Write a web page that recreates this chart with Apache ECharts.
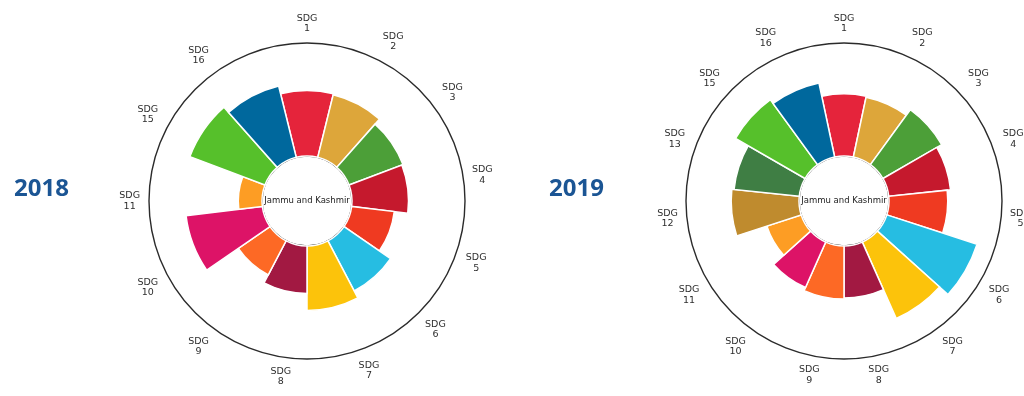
<!DOCTYPE html>
<html>
<head>
<meta charset="utf-8">
<script src="https://cdn.jsdelivr.net/npm/echarts@6/dist/echarts.min.js"></script>
<style>
html,body{margin:0;padding:0;background:#fff;}
#chart{width:1024px;height:396px;}
</style>
</head>
<body>
<div id="chart"></div>
<script>
// ---- data ----
const goals2018 = [1, 2, 3, 4, 5, 6, 7, 8, 9, 10, 11, 15, 16];
const scores2018 = [58, 57, 51, 50, 38, 50, 57, 42, 34, 68, 21, 71, 65];
const goals2019 = [1, 2, 3, 4, 5, 6, 7, 8, 9, 10, 11, 12, 13, 15, 16];
const scores2019 = [55, 54, 60, 55, 52, 84, 74, 46, 47, 44, 32, 60, 58, 71, 67];
const yearLabels = ['2018', '2019'];
const centerLabel = 'Jammu and Kashmir';
const sdgColors = {
  1: '#E5243B', 2: '#DDA63A', 3: '#4C9F38', 4: '#C5192D', 5: '#EF3A21',
  6: '#26BDE2', 7: '#FCC30B', 8: '#A21942', 9: '#FD6925', 10: '#DD1367',
  11: '#FD9D24', 12: '#BF8B2E', 13: '#3F7E44', 14: '#0A97D9', 15: '#56C02B',
  16: '#00689D', 17: '#19486A'
};
// ---- layout ----
const centers = [[307, 201], [844, 201]];
const innerR = 45, outerR = 158;
const labelStepDeg = [27, 24];   // angular spacing of the tick labels in each panel

const chart = echarts.init(document.getElementById('chart'), null, {renderer: 'canvas'});

const sets = [[goals2018, scores2018], [goals2019, scores2019]];
function barData(goals, scores) {
  return scores.map((v, i) => ({ value: v, itemStyle: { color: sdgColors[goals[i]] } }));
}

const polars = [], angleAxes = [], radiusAxes = [], series = [];
sets.forEach((s, i) => {
  const goals = s[0];
  // bar panel
  polars.push({ center: centers[i], radius: [innerR, outerR] });
  angleAxes.push({
    polarIndex: polars.length - 1,
    type: 'category',
    data: goals.map(g => 'SDG ' + g),
    startAngle: 90 + 180 / goals.length,
    clockwise: true,
    axisLine: { show: true, lineStyle: { color: '#2b2b2b', width: 1.4 } },
    axisTick: { show: false },
    splitLine: { show: false },
    axisLabel: { show: false }
  });
  radiusAxes.push({
    polarIndex: polars.length - 1, type: 'value', min: 0, max: 100, show: false,
    axisLine: { show: false }, axisLabel: { show: false }, axisTick: { show: false }, splitLine: { show: false }
  });
  series.push({
    type: 'bar',
    coordinateSystem: 'polar',
    polarIndex: polars.length - 1,
    barCategoryGap: '0%',
    data: barData(goals, s[1]),
    itemStyle: { borderColor: '#ffffff', borderWidth: 1.5 }
  });
});
sets.forEach((s, i) => {
  const goals = s[0];
  const step = labelStepDeg[i];
  // label ring
  polars.push({ center: centers[i], radius: [innerR, outerR] });
  angleAxes.push({
    polarIndex: polars.length - 1,
    type: 'value',
    min: 0, max: 360, interval: step,
    startAngle: 90,
    clockwise: true,
    axisLine: { show: false },
    axisTick: { show: false },
    splitLine: { show: false },
    axisLabel: {
      margin: 9,
      formatter: function (v) {
        const k = Math.round(v / step);
        if (k >= goals.length || v >= 360) return '';
        return '{a|SDG}\n{a|' + goals[k] + '}';
      },
      rich: { a: { align: 'center', fontSize: 9.5, lineHeight: 10.5, color: '#2e2e2e', fontFamily: 'DejaVu Sans' } }
    }
  });
  radiusAxes.push({
    polarIndex: polars.length - 1, type: 'value', min: 0, max: 100, show: false,
    axisLine: { show: false }, axisLabel: { show: false }, axisTick: { show: false }, splitLine: { show: false }
  });
});

const option = {
  backgroundColor: '#ffffff',
  animation: false,
  polar: polars,
  angleAxis: angleAxes,
  radiusAxis: radiusAxes,
  series: series,
  graphic: [
    ...centers.map(c => ({
      type: 'text', x: c[0], y: c[1],
      style: { text: centerLabel, fontSize: 8.5, fontFamily: 'DejaVu Sans', fill: '#222',
               align: 'center', verticalAlign: 'middle' }
    })),
    { type: 'text', x: 14, y: 189, style: { text: yearLabels[0], fontSize: 24, fontWeight: 'bold',
      fontFamily: 'Open Sans', fill: '#1B5594', verticalAlign: 'middle' } },
    { type: 'text', x: 549, y: 189, style: { text: yearLabels[1], fontSize: 24, fontWeight: 'bold',
      fontFamily: 'Open Sans', fill: '#1B5594', verticalAlign: 'middle' } }
  ]
};
chart.setOption(option);
</script>
</body>
</html>
